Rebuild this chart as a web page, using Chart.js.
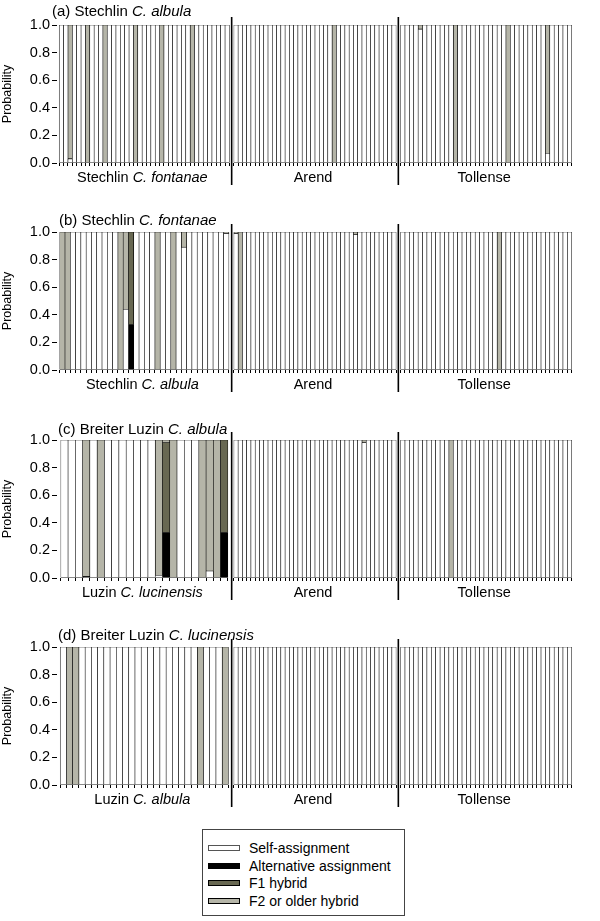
<!DOCTYPE html>
<html>
<head>
<meta charset="utf-8">
<script src="https://cdn.jsdelivr.net/npm/chart.js@4.4.1/dist/chart.umd.min.js"></script>
<style>
  body { margin: 0; background: #fff; width: 600px; height: 921px; position: relative; overflow: hidden;
         font-family: "Liberation Sans", Arial, sans-serif; }
  canvas.panel { position: absolute; left: 0; }
  #legend { position: absolute; left: 202px; top: 829px; width: 203px; height: 87px;
            border: 1px solid #444; box-sizing: border-box; padding-top: 9px; }
  .item { height: 17.7px; display: flex; align-items: center; font-size: 14px; color: #000; }
  .swatch { width: 32px; height: 6px; margin-left: 5px; margin-right: 9px; border: 1px solid #555; box-sizing: border-box; }
</style>
</head>
<body>
<canvas class="panel" id="pa" width="600" height="205" style="top:0px"></canvas>
<canvas class="panel" id="pb" width="600" height="205" style="top:207px"></canvas>
<canvas class="panel" id="pc" width="600" height="205" style="top:415px"></canvas>
<canvas class="panel" id="pd" width="600" height="205" style="top:622px"></canvas>
<div id="legend"></div>

<script>
// ---------- data ----------
const categories = ['Self-assignment', 'Alternative assignment', 'F1 hybrid', 'F2 or older hybrid'];
const categoryColors = ['#ffffff', '#000000', '#686852', '#b5b5a8'];

// panel titles: [plain part, italic part]
const panelTitles = [
  ['(a) Stechlin ', 'C. albula'],
  ['(b) Stechlin ', 'C. fontanae'],
  ['(c) Breiter Luzin ', 'C. albula'],
  ['(d) Breiter Luzin ', 'C. lucinensis']
];

// reference group labels under each panel: [plain, italic]
const groupLabelsA = [['Stechlin ', 'C. fontanae'], ['Arend', ''], ['Tollense', '']];
const groupLabelsB = [['Stechlin ', 'C. albula'], ['Arend', ''], ['Tollense', '']];
const groupLabelsC = [['Luzin ', 'C. lucinensis'], ['Arend', ''], ['Tollense', '']];
const groupLabelsD = [['Luzin ', 'C. albula'], ['Arend', ''], ['Tollense', '']];

// number of individuals (bars) per group
const countsA = [39, 38, 39];
const countsB = [32, 38, 39];
const countsC = [23, 38, 39];
const countsD = [27, 38, 39];

// individuals not fully self-assigned:
// [group, bar, self, alternative, F1, F2]   (all other bars: self = 1.0)
const mixedA = [
  [0, 2, 0.03, 0, 0, 0.97], [0, 6, 0, 0, 0, 1], [0, 10, 0, 0, 0, 1], [0, 17, 0, 0, 0, 1],
  [0, 23, 0, 0, 0, 1], [0, 30, 0, 0, 0, 1],
  [1, 23, 0, 0, 0, 1],
  [2, 4, 0.97, 0, 0, 0.03], [2, 12, 0, 0, 0, 1], [2, 24, 0, 0, 0, 1], [2, 33, 0.07, 0, 0, 0.93]
];
const mixedB = [
  [0, 0, 0, 0, 0, 1], [0, 1, 0, 0, 0, 1], [0, 11, 0, 0, 0, 1], [0, 12, 0.44, 0, 0, 0.56],
  [0, 13, 0, 0.33, 0.67, 0], [0, 18, 0, 0, 0, 1], [0, 21, 0, 0, 0, 1], [0, 23, 0.89, 0, 0, 0.11],
  [0, 31, 0.99, 0, 0, 0.01],
  [1, 0, 0.99, 0, 0, 0.01], [1, 1, 0, 0, 0, 1], [1, 28, 0.98, 0, 0, 0.02],
  [2, 22, 0, 0, 0, 1]
];
const mixedC = [
  [0, 3, 0, 0.01, 0, 0.99], [0, 5, 0, 0, 0, 1], [0, 13, 0.02, 0, 0, 0.98],
  [0, 14, 0, 0.33, 0.65, 0.02], [0, 15, 0, 0, 0, 1], [0, 19, 0, 0, 0, 1],
  [0, 20, 0.05, 0, 0, 0.95], [0, 21, 0, 0, 0, 1], [0, 22, 0, 0.33, 0.67, 0],
  [1, 30, 0.98, 0, 0, 0.02],
  [2, 11, 0, 0, 0, 1]
];
const mixedD = [
  [0, 1, 0, 0, 0, 1], [0, 2, 0, 0, 0, 1], [0, 22, 0, 0, 0, 1], [0, 26, 0, 0, 0, 1]
];

const yTicks = [0, 0.2, 0.4, 0.6, 0.8, 1.0];
const groupWeights = [175, 167, 176];

// ---------- drawing ----------
const FAMILY = '"Liberation Sans", Arial, sans-serif';
const FONT = '14.5px ' + FAMILY;
const TITLE_FONT = '15px ' + FAMILY;

function drawMixed(ctx, parts, x, y, centered, font) {
  ctx.save();
  ctx.fillStyle = '#000';
  ctx.textAlign = 'left';
  ctx.textBaseline = 'alphabetic';
  let total = 0;
  parts.forEach((p, i) => {
    ctx.font = (i === 1 ? 'italic ' : '') + font;
    total += ctx.measureText(p).width;
  });
  let cx = centered ? x - total / 2 : x;
  parts.forEach((p, i) => {
    ctx.font = (i === 1 ? 'italic ' : '') + font;
    ctx.fillText(p, cx, y);
    cx += ctx.measureText(p).width;
  });
  ctx.restore();
}

// one {x, y} list per category for one group
function buildSeries(count, mixed, group) {
  const series = categories.map((_, c) => {
    const arr = [];
    for (let i = 0; i < count; i++) arr.push({ x: i, y: c === 0 ? 1 : null });
    return arr;
  });
  mixed.filter(m => m[0] === group).forEach(m => {
    categories.forEach((_, c) => { series[c][m[1]].y = m[2 + c] > 0 ? m[2 + c] : null; });
  });
  return series;
}

function makePanel(canvasId, title, titlePos, groupLabels, counts, mixed) {
  const datasets = [];
  const scales = {};
  counts.forEach((n, g) => {
    const axisId = 'x' + g;
    const series = buildSeries(n, mixed, g);
    categories.forEach((cat, c) => {
      datasets.push({
        label: cat,
        data: series[c],
        xAxisID: axisId,
        yAxisID: 'y',
        grouped: false,
        backgroundColor: categoryColors[c],
        borderColor: '#000',
        borderWidth: 0.6,
        borderSkipped: false,
        barPercentage: 1,
        categoryPercentage: 1
      });
    });
    scales[axisId] = {
      type: 'linear',
      position: 'bottom',
      stacked: true,
      stack: 'groups',
      stackWeight: groupWeights[g],
      min: -0.5,
      max: n - 0.5,
      afterBuildTicks: s => { s.ticks = Array.from({ length: n }, (_, i) => ({ value: i })); },
      grid: { drawOnChartArea: false, drawTicks: true, tickLength: 3, color: '#000' },
      border: { display: false },
      ticks: { display: false },
      afterFit: s => { s.height = 30; }
    };
  });
  scales.y = {
    type: 'linear',
    position: 'left',
    stacked: true,
    min: 0,
    max: 1,
    afterBuildTicks: s => { s.ticks = yTicks.map(v => ({ value: v })); },
    ticks: {
      color: '#000',
      padding: 2,
      font: { family: FAMILY, size: 14.5 },
      callback: v => v.toFixed(1)
    },
    grid: { drawOnChartArea: false, drawTicks: true, tickLength: 5, color: '#000' },
    border: { display: false },
    title: {
      display: true,
      text: 'Probability',
      color: '#000',
      padding: { top: 0, bottom: 0 },
      font: { family: FAMILY, size: 12.5 }
    },
    afterFit: s => { s.width = 57; }
  };

  const decorations = {
    id: 'decorations',
    afterDraw(chart) {
      const ctx = chart.ctx;
      const area = chart.chartArea;
      drawMixed(ctx, title, titlePos[0], area.top - titlePos[1], false, TITLE_FONT);
      counts.forEach((n, g) => {
        const sc = chart.scales['x' + g];
        drawMixed(ctx, groupLabels[g], (sc.left + sc.right) / 2 - 2, area.bottom + 18.5, true, FONT);
      });
      ctx.save();
      ctx.strokeStyle = '#000';
      ctx.lineWidth = 1.6;
      for (let g = 1; g < counts.length; g++) {
        const x = chart.scales['x' + g].left;
        ctx.beginPath();
        ctx.moveTo(x, area.top - 8);
        ctx.lineTo(x, area.bottom + 22);
        ctx.stroke();
      }
      ctx.restore();
    }
  };

  new Chart(document.getElementById(canvasId), {
    type: 'bar',
    data: { datasets },
    options: {
      responsive: false,
      animation: false,
      devicePixelRatio: 1,
      layout: { padding: { left: 0, right: 26, top: 25, bottom: 12 } },
      plugins: { legend: { display: false }, tooltip: { enabled: false }, title: { display: false } },
      scales
    },
    plugins: [decorations]
  });
}

// title placement: [x, distance of baseline above plot top]
makePanel('pa', panelTitles[0], [52, 9], groupLabelsA, countsA, mixedA);
makePanel('pb', panelTitles[1], [59, 7.3], groupLabelsB, countsB, mixedB);
makePanel('pc', panelTitles[2], [58, 6], groupLabelsC, countsC, mixedC);
makePanel('pd', panelTitles[3], [58, 7], groupLabelsD, countsD, mixedD);

// legend built from the category arrays
const legend = document.getElementById('legend');
categories.forEach((cat, c) => {
  const item = document.createElement('div');
  item.className = 'item';
  const sw = document.createElement('span');
  sw.className = 'swatch';
  sw.style.background = categoryColors[c];
  if (c > 0) sw.style.borderColor = '#000';
  const label = document.createElement('span');
  label.textContent = cat;
  item.appendChild(sw);
  item.appendChild(label);
  legend.appendChild(item);
});
</script>
</body>
</html>
